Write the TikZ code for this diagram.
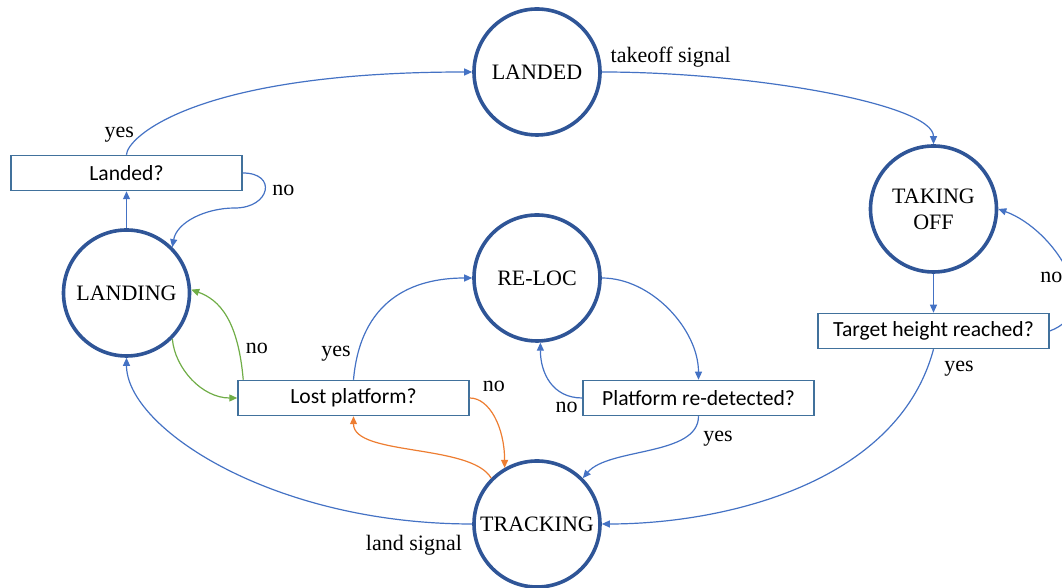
\documentclass[tikz,border=0pt]{standalone}
\usepackage{fontspec}
\setmainfont{Liberation Serif}
\newfontfamily\serifont{Liberation Serif}
\newfontfamily\boxfont{Carlito}
\usetikzlibrary{automata, arrows.meta}
\definecolor{ringblue}{HTML}{2F5597}
\definecolor{lineblue}{HTML}{4472C4}
\definecolor{boxblue}{HTML}{41719C}
\definecolor{okgreen}{HTML}{70AD47}
\definecolor{warnorange}{HTML}{ED7D31}

\begin{document}
\begin{tikzpicture}[->, >={Triangle[length=4pt,width=3.5pt]}, x=0.5pt, y=0.5pt,
    every edge/.style={draw=lineblue, line width=0.6pt},
    lbl/.style={font=\serifont\fontsize{11}{13}\selectfont, text=black},
    greenflow/.style={draw=okgreen}, orangeflow/.style={draw=warnorange}]
\tikzstyle{every state}=[fill=white,draw=ringblue,line width=1.8pt,text=black,minimum size=63pt,inner sep=0pt,font=\serifont\fontsize{11}{13}\selectfont]
\tikzstyle{query}=[rectangle,fill=white,draw=boxblue,line width=0.75pt,minimum width=115.5pt,minimum height=17.5pt,inner sep=0pt,font=\boxfont\fontsize{10.8}{13}\selectfont]
\useasboundingbox (0,0) rectangle (1062,588);
\node[state]    (landed)   at (537,516)  {LANDED};
\node[state, align=center] (takeoff) at (933.5,379) {TAKING\\OFF};
\node[state]    (landing)  at (126.5,295)  {LANDING};
\node[state]    (reloc)    at (537,310)  {RE-LOC};
\node[state]    (tracking) at (537,64)   {TRACKING};
\node[query]    (landedq)[above of=landing, node distance=60pt] {Landed?};
\node[query]    (lostq)    at (353.5,190) {Lost platform?};
\node[query]    (redetq)[right of=lostq, node distance=172.5pt] {Platform re-detected?};
\node[query]    (heightq)[below of=takeoff, node distance=61pt] {Target height reached?};
\coordinate (nobend) at (235,380);
\path
(landedq.north) edge[out=90, in=180, out distance=8pt, in distance=140pt]   node[lbl, pos=0.25, left]{yes}   (landed.west)
(landed.east)   edge[out=0, in=90, out distance=75pt, in distance=20pt]     node[lbl, pos=0.15, above]{takeoff signal} (takeoff.north)
(takeoff)       edge (heightq)
(heightq.east)  edge[out=20, in=-20, out distance=30pt, in distance=30pt]   node[lbl, pos=0.45, left]{no}    (takeoff.east)
(heightq.south) edge[out=-105, in=0, out distance=70pt, in distance=60pt]   node[lbl, pos=0.05, right=5pt]{yes}  (tracking.east)
(landing)       edge (landedq)
(landing.-45)   edge[greenflow, out=-85, in=180, out distance=15pt, in distance=17.5pt] (lostq.west)
([xshift=3pt]lostq.north west) edge[greenflow, out=95, in=-20, out distance=30pt, in distance=15pt] node[lbl, pos=0.2, right]{no} (landing.3)
(lostq.north)   edge[out=85, in=180, out distance=40pt, in distance=30pt]   node[lbl, pos=0.12, left]{yes}   (reloc.west)
(reloc.east)    edge[out=0, in=90, out distance=25pt, in distance=25pt]     (redetq.north)
(redetq.west)   edge[out=180, in=-90, out distance=15pt, in distance=15pt]  node[lbl, pos=0, below left, inner sep=2pt]{no} (reloc.-87)
(redetq.south)  edge[out=-90, in=50, out distance=20pt, in distance=20pt]   node[lbl, pos=0.25, right=6pt]{yes}   (tracking.45)
(lostq.east)    edge[orangeflow, out=0, in=90, out distance=10pt, in distance=20pt] node[lbl, pos=0.1, above right]{no} (tracking.120)
(tracking.135)  edge[orangeflow, out=120, in=-90, out distance=20pt, in distance=20pt] (lostq.south)
(tracking.west) edge[out=180, in=-90, out distance=100pt, in distance=35pt] node[lbl, pos=0.1, below=3.5pt]{land signal} (landing.south);
% loop from Landed? back down into LANDING
\draw[-, draw=lineblue, line width=0.6pt] (landedq.east) to[out=0, in=0, out distance=17.5pt, in distance=17.5pt] node[lbl, pos=0.5, right]{no} (nobend);
\draw[draw=lineblue, line width=0.6pt] (nobend) to[out=180, in=80, out distance=15pt, in distance=12.5pt] (landing.45);
\end{tikzpicture}
\end{document}
